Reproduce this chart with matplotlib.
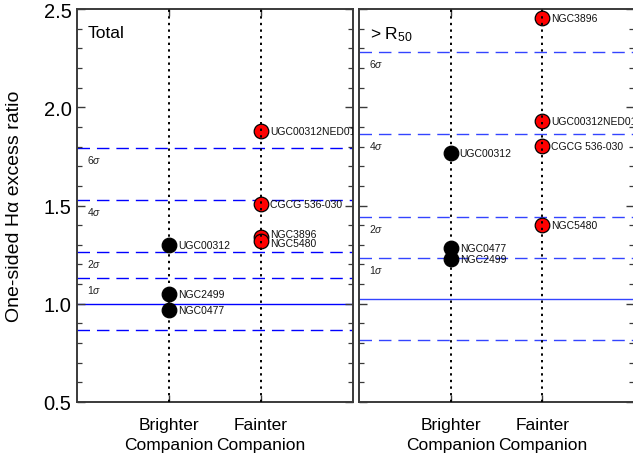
#!/usr/bin/env python3
"""
One-sided H-alpha excess ratio for brighter / fainter companions,
total and outside R50, with sigma levels of the control sample.
"""
import matplotlib
matplotlib.use('Agg')
import matplotlib.pyplot as plt
from matplotlib.ticker import MultipleLocator

plt.rcParams['font.family'] = ['Liberation Sans', 'DejaVu Sans']
plt.rcParams['mathtext.fontset'] = 'custom'
plt.rcParams['mathtext.rm'] = 'Liberation Sans'
plt.rcParams['mathtext.it'] = 'Liberation Sans:italic'

categories = ['Brighter\nCompanion', 'Fainter\nCompanion']

# Total
total_bright_names = ['UGC00312', 'NGC2499', 'NGC0477']
total_bright_vals = [1.297, 1.052, 0.966]
total_faint_names = ['UGC00312NED01', 'CGCG 536-030', 'NGC3896', 'NGC5480']
total_faint_vals = [1.880, 1.508, 1.340, 1.320]
total_center = 1.0
total_sigma = 0.132

# Outside R50
outer_bright_names = ['UGC00312', 'NGC0477', 'NGC2499']
outer_bright_vals = [1.768, 1.284, 1.226]
outer_faint_names = ['NGC3896', 'UGC00312NED01', 'CGCG 536-030', 'NGC5480']
outer_faint_vals = [2.453, 1.932, 1.802, 1.400]
outer_center = 1.023
outer_sigma = 0.210

sigma_levels = [-1, 1, 2, 4, 6]
labelled_levels = [1, 2, 4, 6]

SPINE = '#3a3a3a'


def draw_panel(ax, title, bright_names, bright_vals, faint_names, faint_vals,
               center, sigma, line_color, nudges=None):
    nudges = nudges or {}
    ax.set_xlim(0, 3)
    ax.set_ylim(0.5, 2.5)

    ax.axhline(center, color=line_color, lw=1.0, zorder=1)
    for k in sigma_levels:
        y = center + k * sigma
        ax.axhline(y, color=line_color, lw=1.0, dashes=(9, 5), zorder=1)
        if k in labelled_levels:
            ax.annotate(f'{k}$\\sigma$', xy=(0.035, y),
                        xycoords=('axes fraction', 'data'),
                        xytext=(0, -3.5), textcoords='offset points',
                        ha='left', va='top', fontsize=7.5, color='#222222')

    for xpos, names, vals, face in [(1, bright_names, bright_vals, 'black'),
                                    (2, faint_names, faint_vals, 'red')]:
        ax.plot([xpos] * len(vals), vals, 'o', ms=10.5, mfc=face,
                mec='black', mew=0.9, zorder=3, clip_on=False)
        for name, v in zip(names, vals):
            dy = nudges.get((xpos, name), 0)
            ax.annotate(name, xy=(xpos, v), xytext=(6.5, dy),
                        textcoords='offset points', ha='left', va='center',
                        fontsize=7.5, color='#111111', annotation_clip=True,
                        clip_on=True)

    for xpos in (1, 2):
        ax.axvline(xpos, color='black', lw=1.4, dashes=(1.2, 2.2), zorder=4)

    ax.text(0.04, 0.96, title, transform=ax.transAxes, ha='left', va='top',
            fontsize=12.5)

    ax.set_xticks([1, 2])
    ax.set_xticklabels(categories, fontsize=12.5, linespacing=1.4)
    ax.yaxis.set_major_locator(MultipleLocator(0.5))
    ax.yaxis.set_minor_locator(MultipleLocator(0.1))
    ax.yaxis.set_major_formatter(plt.FormatStrFormatter('%.1f'))
    ax.tick_params(axis='both', which='both', direction='in', color=SPINE,
                   left=True, right=True, top=True, bottom=True)
    ax.tick_params(axis='y', which='major', length=5.5, width=1.0,
                   labelsize=14.5, pad=4)
    ax.tick_params(axis='y', which='minor', length=3.5, width=0.9)
    ax.tick_params(axis='x', which='major', length=5, width=1.0, pad=11)
    for sp in ax.spines.values():
        sp.set_color(SPINE)
        sp.set_linewidth(1.4)


fig = plt.figure(figsize=(6.33, 4.56), dpi=100)
ax_tot = fig.add_axes([77 / 633, 53 / 456, 276 / 633, 393 / 456])
ax_out = fig.add_axes([359 / 633, 53 / 456, 275 / 633, 393 / 456])

draw_panel(ax_tot, 'Total', total_bright_names, total_bright_vals,
           total_faint_names, total_faint_vals, total_center, total_sigma,
           'blue', nudges={(2, 'NGC3896'): 1.8, (2, 'NGC5480'): -1.8})
draw_panel(ax_out, '> R$_{50}$', outer_bright_names, outer_bright_vals,
           outer_faint_names, outer_faint_vals, outer_center, outer_sigma,
           '#3344ff')

ax_tot.set_ylabel('One-sided H\u03b1 excess ratio', fontsize=14)
ax_tot.yaxis.set_label_coords(-0.195, 0.5)
ax_out.tick_params(axis='y', which='both', labelleft=False)

fig.savefig('out.png', dpi=100)
